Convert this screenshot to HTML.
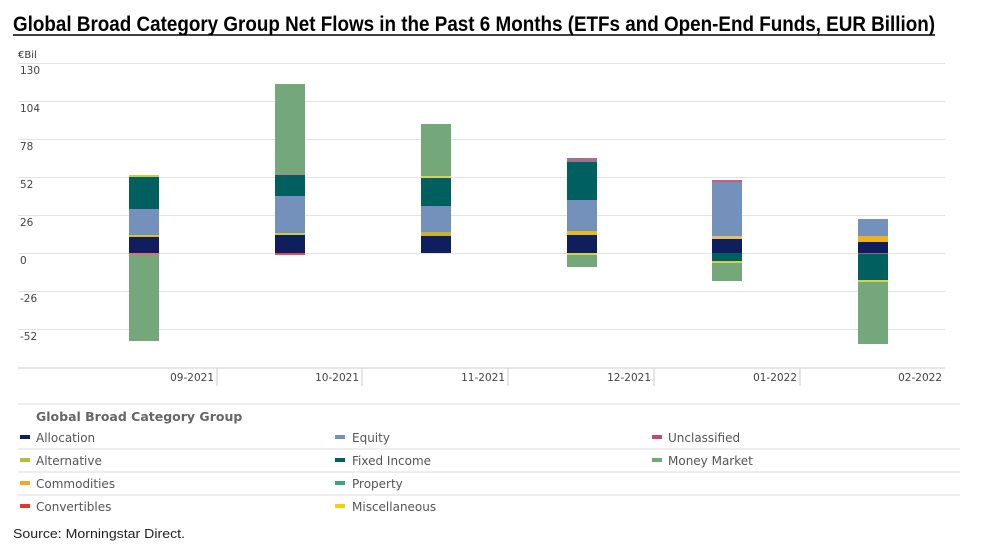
<!DOCTYPE html>
<html><head><meta charset="utf-8"><style>
html,body{margin:0;padding:0;background:#fff;width:982px;height:550px;overflow:hidden}
svg text{font-family:"DejaVu Sans","Liberation Sans",sans-serif}
</style></head><body>
<svg width="982" height="550" viewBox="0 0 982 550" xmlns="http://www.w3.org/2000/svg">
<text x="13" y="31" font-family="'Liberation Sans Narrow','Liberation Sans',sans-serif" font-weight="bold" font-size="21" fill="#000" textLength="922" lengthAdjust="spacingAndGlyphs" style="font-family:'Liberation Sans Narrow','Liberation Sans',sans-serif">Global Broad Category Group Net Flows in the Past 6 Months (ETFs and Open-End Funds, EUR Billion)</text>
<line x1="13" y1="35" x2="935" y2="35" stroke="#000" stroke-width="1.5"/>
<text x="18" y="58" font-size="10" fill="#333">€Bil</text>
<g stroke="#e3e3e3" stroke-width="1">
<line x1="18" y1="63.5" x2="945" y2="63.5"/><line x1="18" y1="101.5" x2="945" y2="101.5"/><line x1="18" y1="139.5" x2="945" y2="139.5"/><line x1="18" y1="177.5" x2="945" y2="177.5"/><line x1="18" y1="215.5" x2="945" y2="215.5"/><line x1="18" y1="253.5" x2="945" y2="253.5"/><line x1="18" y1="291.5" x2="945" y2="291.5"/><line x1="18" y1="329.5" x2="945" y2="329.5"/>
</g>
<line x1="18" y1="368" x2="945" y2="368" stroke="#ccc"/>
<g stroke="#ccc"><line x1="217" y1="368" x2="217" y2="386"/><line x1="362" y1="368" x2="362" y2="386"/><line x1="508" y1="368" x2="508" y2="386"/><line x1="654" y1="368" x2="654" y2="386"/><line x1="800" y1="368" x2="800" y2="386"/></g>
<g font-size="10.5" fill="#444">
<text x="20" y="74">130</text><text x="20" y="112">104</text><text x="20" y="150">78</text><text x="20" y="188">52</text><text x="20" y="226">26</text><text x="20" y="264">0</text><text x="20" y="302">-26</text><text x="20" y="340">-52</text>
</g>
<g font-size="10.5" fill="#444" text-anchor="end">
<text x="214" y="381">09-2021</text><text x="359" y="381">10-2021</text><text x="505" y="381">11-2021</text><text x="651" y="381">12-2021</text><text x="797" y="381">01-2022</text><text x="942" y="381">02-2022</text>
</g>
<!-- bar1 -->
<g>
<rect x="129" y="237" width="30" height="16" fill="#0f1f5e"/><rect x="129" y="235" width="30" height="2" fill="#e0c020"/>
<rect x="129" y="209" width="30" height="26" fill="#7391bb"/><rect x="129" y="177" width="30" height="32" fill="#00605f"/>
<rect x="129" y="175" width="30" height="2" fill="#c8d040"/>
<rect x="129" y="253" width="30" height="2" fill="#e07070"/><rect x="129" y="255" width="30" height="86" fill="#74a87a"/>
</g>
<g>
<rect x="275" y="235" width="30" height="18" fill="#0f1f5e"/><rect x="275" y="233" width="30" height="2" fill="#c8d040"/>
<rect x="275" y="196" width="30" height="37" fill="#7391bb"/><rect x="275" y="175" width="30" height="21" fill="#00605f"/>
<rect x="275" y="174" width="30" height="1" fill="#e07070"/><rect x="275" y="84" width="30" height="90" fill="#74a87a"/>
<rect x="275" y="253" width="30" height="2" fill="#e05050"/>
</g>
<g>
<rect x="421" y="236" width="30" height="17" fill="#0f1f5e"/><rect x="421" y="232" width="30" height="4" fill="#c8b030"/>
<rect x="421" y="206" width="30" height="26" fill="#7391bb"/><rect x="421" y="178" width="30" height="28" fill="#00605f"/>
<rect x="421" y="176" width="30" height="2" fill="#d8d060"/><rect x="421" y="124" width="30" height="52" fill="#74a87a"/>
</g>
<g>
<rect x="567" y="235" width="30" height="18" fill="#0f1f5e"/><rect x="567" y="231" width="30" height="4" fill="#e8b820"/>
<rect x="567" y="200" width="30" height="31" fill="#7391bb"/><rect x="567" y="162" width="30" height="38" fill="#00605f"/>
<rect x="567" y="158" width="30" height="4" fill="#a07090"/>
<rect x="567" y="253" width="30" height="2" fill="#e0d040"/><rect x="567" y="255" width="30" height="12" fill="#74a87a"/>
</g>
<g>
<rect x="712" y="239" width="30" height="14" fill="#0f1f5e"/><rect x="712" y="236" width="30" height="3" fill="#e8c060"/>
<rect x="712" y="182" width="30" height="54" fill="#7391bb"/><rect x="712" y="180" width="30" height="2" fill="#c06080"/>
<rect x="712" y="253" width="30" height="8" fill="#00605f"/><rect x="712" y="261" width="30" height="2" fill="#d8d040"/>
<rect x="712" y="263" width="30" height="18" fill="#74a87a"/>
</g>
<g>
<rect x="858" y="242" width="30" height="11" fill="#0f1f5e"/><rect x="858" y="236" width="30" height="6" fill="#f0b020"/>
<rect x="858" y="219" width="30" height="17" fill="#7391bb"/>
<rect x="858" y="253" width="30" height="1" fill="#a06080"/>
<rect x="858" y="254" width="30" height="26" fill="#00605f"/><rect x="858" y="280" width="30" height="2" fill="#d8d040"/>
<rect x="858" y="282" width="30" height="62" fill="#74a87a"/>
</g>
<!-- legend -->
<line x1="18" y1="404" x2="960" y2="404" stroke="#ddd"/>
<line x1="18" y1="449" x2="960" y2="449" stroke="#ddd"/>
<line x1="18" y1="472" x2="960" y2="472" stroke="#ddd"/>
<line x1="18" y1="495" x2="960" y2="495" stroke="#ddd"/>
<text x="36" y="421" font-size="12.5" font-weight="bold" fill="#666">Global Broad Category Group</text>
<g font-size="12" fill="#555">
<rect x="20" y="435" width="10" height="4" fill="#0f1f5e"/><text x="36" y="442">Allocation</text>
<rect x="335" y="435" width="10" height="4" fill="#7391bb"/><text x="352" y="442">Equity</text>
<rect x="652" y="435" width="10" height="4" fill="#c6457a"/><text x="668" y="442">Unclassified</text>
<rect x="20" y="458" width="10" height="4" fill="#a8c43a"/><text x="36" y="465">Alternative</text>
<rect x="335" y="458" width="10" height="4" fill="#00605f"/><text x="352" y="465">Fixed Income</text>
<rect x="652" y="458" width="10" height="4" fill="#74a87a"/><text x="668" y="465">Money Market</text>
<rect x="20" y="481" width="10" height="4" fill="#f5a623"/><text x="36" y="488">Commodities</text>
<rect x="335" y="481" width="10" height="4" fill="#3aa57f"/><text x="352" y="488">Property</text>
<rect x="20" y="504" width="10" height="4" fill="#e8352a"/><text x="36" y="511">Convertibles</text>
<rect x="335" y="504" width="10" height="4" fill="#f5d000"/><text x="352" y="511">Miscellaneous</text>
</g>
<text x="13" y="538" font-size="13" fill="#222" textLength="172" lengthAdjust="spacingAndGlyphs" style="font-family:'Liberation Sans Narrow','Liberation Sans',sans-serif">Source: Morningstar Direct.</text>
</svg>
</body></html>
